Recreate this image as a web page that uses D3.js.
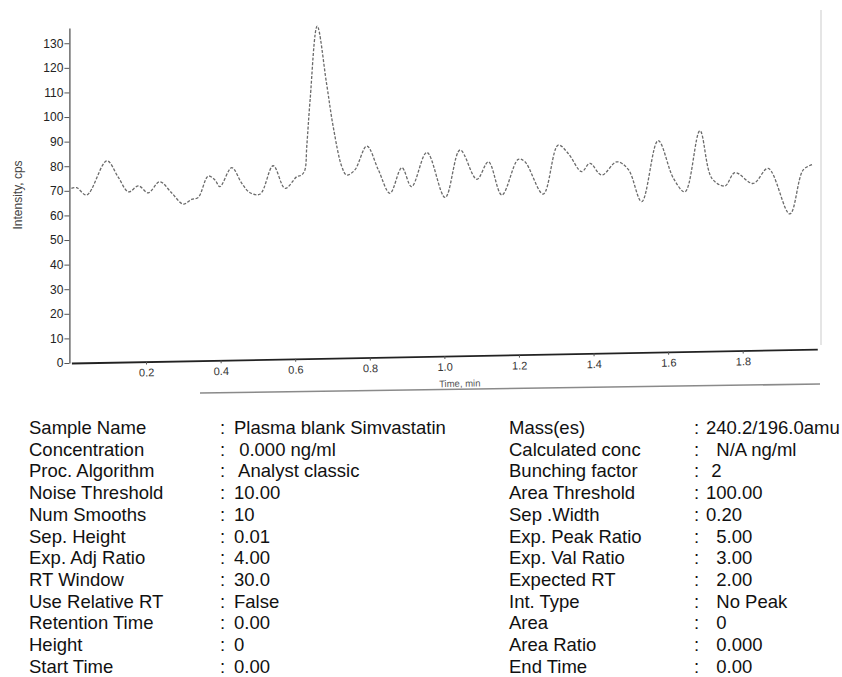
<!DOCTYPE html>
<html>
<head>
<meta charset="utf-8">
<script src="https://cdn.jsdelivr.net/npm/d3@7"></script>
<style>
  html, body { margin: 0; padding: 0; background: #fff; }
  svg { display: block; font-family: "Liberation Sans", Arial, sans-serif; }
  .tbl text { fill: #111; font-size: 18.5px; white-space: pre; }
</style>
</head>
<body>
<div id="chart"></div>
<script>
// chromatogram trace (time in min, intensity in cps)
const times = [
  0.000, 0.014, 0.041, 0.095, 0.125, 0.153, 0.180, 0.206, 0.237, 0.269,
  0.300, 0.322, 0.340, 0.367, 0.385, 0.398, 0.430, 0.457, 0.479, 0.506,
  0.541, 0.573, 0.604, 0.617, 0.626, 0.631, 0.640, 0.659, 0.684, 0.702,
  0.725, 0.738, 0.760, 0.792, 0.823, 0.854, 0.886, 0.912, 0.953, 1.002,
  1.042, 1.087, 1.118, 1.154, 1.198, 1.216, 1.265, 1.305, 1.332, 1.368,
  1.390, 1.422, 1.462, 1.493, 1.529, 1.573, 1.614, 1.645, 1.685, 1.717,
  1.752, 1.779, 1.828, 1.868, 1.926, 1.962, 1.989
];
const intensity = [
  71.0, 71.3, 68.3, 82.2, 75.7, 69.6, 72.0, 69.2, 73.7, 69.1,
  64.6, 66.5, 67.3, 76.0, 74.4, 71.7, 79.4, 73.0, 69.2, 68.7,
  80.2, 71.0, 75.7, 76.4, 78.5, 88.0, 107.0, 137.0, 113.7, 96.0,
  79.8, 76.4, 78.5, 88.2, 78.5, 69.0, 79.4, 71.7, 85.6, 67.3,
  86.6, 74.7, 81.8, 68.3, 82.8, 81.8, 68.7, 88.6, 85.2, 77.8,
  81.2, 76.4, 81.8, 78.7, 65.6, 90.4, 75.1, 69.6, 94.4, 75.1,
  72.0, 77.4, 73.0, 79.1, 60.6, 78.5, 80.8
];

const yTicks = [0, 10, 20, 30, 40, 50, 60, 70, 80, 90, 100, 110, 120, 130];
const xTicks = [0.2, 0.4, 0.6, 0.8, 1.0, 1.2, 1.4, 1.6, 1.8];

// parameter table under the chart
const leftLabels = ["Sample Name", "Concentration", "Proc. Algorithm", "Noise Threshold",
  "Num Smooths", "Sep. Height", "Exp. Adj Ratio", "RT Window", "Use Relative RT",
  "Retention Time", "Height", "Start Time"];
const leftValues = ["Plasma blank Simvastatin", " 0.000 ng/ml", " Analyst classic", "10.00",
  "10", "0.01", "4.00", "30.0", "False", "0.00", "0", "0.00"];
const rightLabels = ["Mass(es)", "Calculated conc", "Bunching factor", "Area Threshold",
  "Sep .Width", "Exp. Peak Ratio", "Exp. Val Ratio", "Expected RT", "Int. Type",
  "Area", "Area Ratio", "End Time"];
const rightValues = ["240.2/196.0amu", "  N/A ng/ml", " 2", "100.00",
  "0.20", "  5.00", "  3.00", "  2.00", "  No Peak", "  0", "  0.000", "  0.00"];

const W = 842, H = 677;
const svg = d3.select("#chart").append("svg")
  .attr("width", W)
  .attr("height", H);

const x = d3.scaleLinear().domain([0, 2]).range([71.4, 817.4]);
const y = d3.scaleLinear().domain([0, 136.2]).range([363, 28]);

// faint page edge on the right of the scan
svg.append("line")
  .attr("x1", 821).attr("x2", 821).attr("y1", 10).attr("y2", 345)
  .attr("stroke", "#d4d4d4").attr("stroke-width", 1.2);

// y axis
const yAxis = svg.append("g")
  .attr("transform", `translate(${x(0) - 2},0)`)
  .call(d3.axisLeft(y).tickValues(yTicks).tickSize(5).tickPadding(1).tickSizeOuter(0));
yAxis.select(".domain").attr("stroke", "#555").attr("stroke-width", 1.3);
yAxis.selectAll(".tick line").attr("stroke", "#555");
yAxis.selectAll(".tick text")
  .attr("fill", "#222")
  .style("font-size", "12px")
  .style("font-family", "'Liberation Sans Narrow', 'Liberation Sans', Arial, sans-serif");

svg.append("text")
  .attr("transform", "translate(22,195) rotate(-90)")
  .attr("text-anchor", "middle")
  .attr("fill", "#444")
  .style("font-size", "12px")
  .text("Intensity, cps");

// x axis, slightly skewed like the scanned page
const xAxis = svg.append("g")
  .attr("transform", `rotate(-1.07, ${x(0)}, ${y(0)}) translate(0,${y(0)})`)
  .call(d3.axisBottom(x).tickValues(xTicks).tickFormat(d3.format(".1f"))
    .tickSize(3).tickPadding(4).tickSizeOuter(0));
xAxis.select(".domain").attr("stroke", "#222").attr("stroke-width", 1.8);
xAxis.selectAll(".tick line").attr("stroke", "#555");
xAxis.selectAll(".tick text")
  .attr("fill", "#333")
  .style("font-size", "11px");

xAxis.append("text")
  .attr("x", x(1.04))
  .attr("y", 31)
  .attr("text-anchor", "middle")
  .attr("fill", "#555")
  .style("font-size", "9.5px")
  .text("Time, min");

// lower frame edge
svg.append("line")
  .attr("x1", 200).attr("y1", 393).attr("x2", 820).attr("y2", 384)
  .attr("stroke", "#8a8a8a").attr("stroke-width", 1.6);

// trace
const pts = times.map((t, i) => [t, intensity[i]]);
const line = d3.line()
  .x(d => x(d[0]))
  .y(d => y(d[1]))
  .curve(d3.curveCatmullRom.alpha(0.5));

svg.append("path")
  .datum(pts)
  .attr("d", line)
  .attr("fill", "none")
  .attr("stroke", "#6a6a6a")
  .attr("stroke-width", 1.3)
  .attr("stroke-dasharray", "3,1.6");

// table
const rowY = i => 434 + i * 21.7;
const tbl = svg.append("g").attr("class", "tbl");

function column(labels, values, lx, cx, vx) {
  const g = tbl.append("g");
  g.selectAll(".lab").data(labels).join("text")
    .attr("class", "lab").attr("x", lx).attr("y", (d, i) => rowY(i)).text(d => d);
  g.selectAll(".col").data(labels).join("text")
    .attr("class", "col").attr("x", cx).attr("y", (d, i) => rowY(i)).text(":");
  g.selectAll(".val").data(values).join("text")
    .attr("class", "val").attr("x", vx).attr("y", (d, i) => rowY(i)).text(d => d);
}

column(leftLabels, leftValues, 29, 220, 234);
column(rightLabels, rightValues, 509, 694, 706);
</script>
</body>
</html>
